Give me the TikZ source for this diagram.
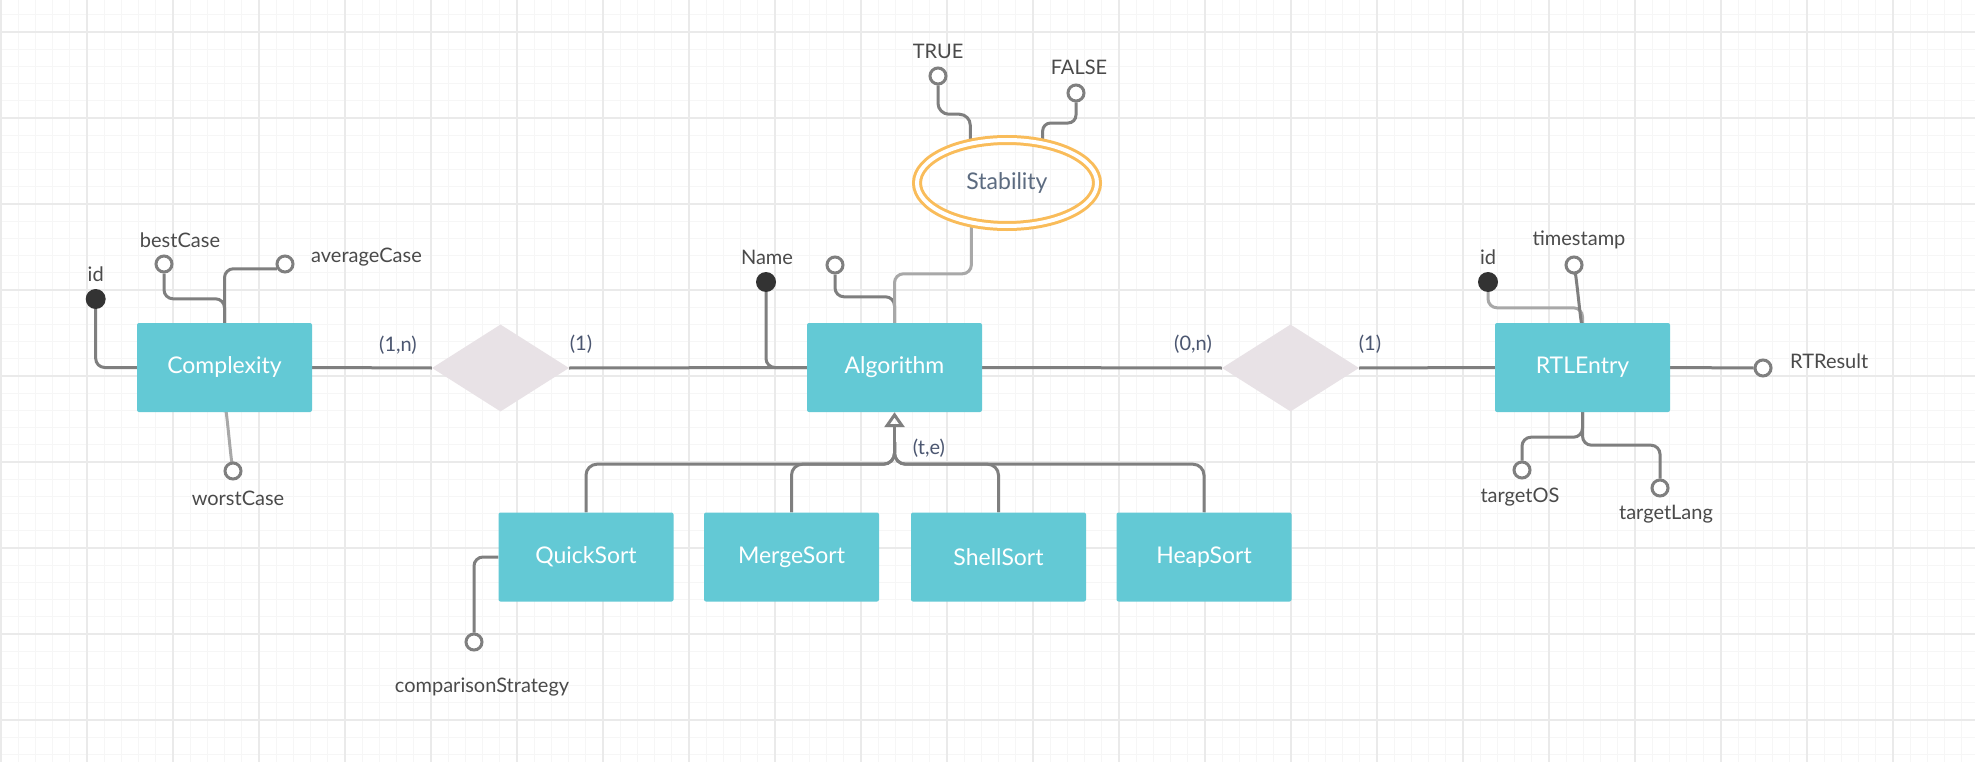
\documentclass[tikz,border=0pt]{standalone}
\usepackage{fontspec}
\setmainfont{Lato}
\usetikzlibrary{shapes.geometric,arrows.meta,calc}
\definecolor{gridminor}{HTML}{F6F6F6}
\definecolor{gridmajor}{HTML}{EAEAEA}
\definecolor{conn}{HTML}{7F7F7F}
\definecolor{connlight}{HTML}{A8A8A8}
\definecolor{entfill}{HTML}{63C9D5}
\definecolor{relfill}{HTML}{E8E2E6}
\definecolor{keyfill}{HTML}{333333}
\definecolor{lbltext}{HTML}{4A4A4A}
\definecolor{cardtext}{HTML}{4B5670}
\definecolor{stabcol}{HTML}{F9BC5A}
\definecolor{stabtext}{HTML}{5C6B80}
\pgfdeclarelayer{gridlayer}
\pgfdeclarelayer{lines}
\pgfsetlayers{gridlayer,lines,main}
\tikzset{
 entity/.style={rectangle, rounded corners=2pt, fill=entfill, text=white, minimum width=175pt, minimum height=89pt, inner sep=0pt, font=\fontsize{23}{27}\selectfont},
 relation/.style={diamond, fill=relfill, minimum width=137pt, minimum height=87pt, inner sep=0pt},
 attr/.style={circle, draw=conn, line width=3pt, fill=white, minimum size=16pt, inner sep=0pt},
 keyattr/.style={circle, fill=keyfill, minimum size=20pt, inner sep=0pt},
 lbl/.style={text=lbltext, inner sep=0pt, font=\fontsize{20}{24}\selectfont},
 card/.style={text=cardtext, inner sep=0pt, font=\fontsize{20}{24}\selectfont},
 conline/.style={draw=conn, line width=3pt, rounded corners=9pt},
 conlight/.style={conline, draw=connlight},
 multival/.style={ellipse, draw=stabcol, line width=3pt, double=white, double distance=4pt, minimum width=180pt, minimum height=86pt, inner sep=0pt, text=stabtext, font=\fontsize{23}{27}\selectfont},
}
\begin{document}
\begin{tikzpicture}[x=1pt,y=-1pt]
\useasboundingbox (0,0) rectangle (1975,762);
\begin{pgfonlayer}{gridlayer}
\fill[white] (0,0) rectangle (1975,762);
\foreach \i in {0,...,115} {\draw[gridminor, line width=1pt] ({1+\i*17.2},0) -- ({1+\i*17.2},762);}
\foreach \j in {0,...,44} {\draw[gridminor, line width=1pt] (0,{14.8+\j*17.2}) -- (1975,{14.8+\j*17.2});}
\foreach \i in {0,...,23} {\draw[gridmajor, line width=1.2pt] ({1+\i*86},0) -- ({1+\i*86},762);}
\foreach \j in {0,...,8} {\draw[gridmajor, line width=1.2pt] (0,{32+\j*86}) -- (1975,{32+\j*86});}
\end{pgfonlayer}

% entities
\node[entity] (cx) at (224.5,367.5) {Complexity};
\node[entity] (alg) at (894.5,367.5) {Algorithm};
\node[entity] (rtl) at (1582.5,367.5) {RTLEntry};
\node[entity] (qs) at (586,557) {QuickSort};
\node[entity] (ms) at (791.5,557) {MergeSort};
\node[entity] (ss) at (998.5,557) {ShellSort};
\node[entity] (hs) at (1204,557) {HeapSort};
% relationships
\node[relation] (r1) at (500.5,368) {};
\node[relation] (r2) at (1290.5,368) {};
% multivalued attribute
\node[multival] (stab) at (1007,183) {Stability};

% attributes
\node[keyattr] (cid) at (95.7,299) {};
\node[attr] (bc) at (164,264) {};
\node[attr] (ac) at (285,264) {};
\node[attr] (wc) at (233,471) {};
\node[keyattr] (nm) at (766,282) {};
\node[attr] (ua) at (835,265) {};
\node[attr] (tr) at (938,76) {};
\node[attr] (fl) at (1076,93) {};
\node[keyattr] (rid) at (1488,282) {};
\node[attr] (ts) at (1574,265) {};
\node[attr] (rr) at (1763,368) {};
\node[attr] (tos) at (1522,470) {};
\node[attr] (tl) at (1660,488) {};
\node[attr] (cs) at (474,642) {};

% attribute labels
\node[lbl] (cidl) at (95.7,274) {id};
\node[lbl] (bcl) at (180,240) {bestCase};
\node[lbl, anchor=west] (acl) at (311,257) {averageCase};
\node[lbl] (wcl) at (238,498) {worstCase};
\node[lbl] (nml) at (767,257) {Name};
\node[lbl] (trl) at (938,51) {TRUE};
\node[lbl] (fll) at (1079,67) {FALSE};
\node[lbl] (ridl) at (1488,257) {id};
\node[lbl] (tsl) at (1579,240) {timestamp};
\node[lbl, anchor=west] (rrl) at (1790,361) {RTResult};
\node[lbl] (tosl) at (1520,497) {targetOS};
\node[lbl] (tll) at (1666,514) {targetLang};
\node[lbl] (csl) at (482,687) {comparisonStrategy};

% cardinalities
\node[card] (c1) at (398,345) {(1,n)};
\node[card] (c2) at (581,344) {(1)};
\node[card] (c3) at (1193,344) {(0,n)};
\node[card] (c4) at (1370,344) {(1)};
\node[card] (c5) at (929,448) {(t,e)};

\begin{pgfonlayer}{lines}
% Complexity
\draw[conline] (cid.south) |- (cx.west);
\draw[conline] (bc.south) |- ([yshift=24pt]cx.north) -- (cx.north);
\draw[conline] (ac.-150) -| (cx.north);
\draw[conlight] (cx.south) .. controls +(0,-35) and +(0,30) .. (wc.north);
\draw[conline] (cx.east) -- (r1.west);
\draw[conline] (r1.east) -- (alg.west);
% Algorithm
\draw[conline] (nm.south) |- (alg.west);
\draw[conline] (ua.south) |- ([yshift=26pt]alg.north) -- (alg.north);
\draw[conlight] (stab.229) |- ([yshift=49pt]alg.north) -- (alg.north);
\draw[conline, rounded corners=11pt] (tr.south) |- ([yshift=28pt]stab.132) -- (stab.132);
\draw[conline, rounded corners=8pt] (fl.south) |- ([yshift=19pt]stab.49) -- (stab.49);
\draw[conline] (alg.east) -- (r2.west);
\draw[conline] (r2.east) -- (rtl.west);
% inheritance
\draw[conline, rounded corners=11pt] (qs.north) |- ([yshift=-52pt]alg.south) -- ([yshift=-30pt]alg.south);
\draw[conline, rounded corners=11pt] (ms.north) |- ([yshift=-52pt]alg.south) -- ([yshift=-30pt]alg.south);
\draw[conline, rounded corners=11pt] (ss.north) |- ([yshift=-52pt]alg.south) -- ([yshift=-30pt]alg.south);
\draw[conline, rounded corners=11pt] (hs.north) |- ([yshift=-52pt]alg.south) -- ([yshift=-30pt]alg.south);
\draw[conline, -{Triangle[open, length=15pt, width=20pt]}] ([yshift=-34pt]alg.south) -- (alg.south);
\draw[conline] (qs.west) -| (cs.north);
% RTLEntry
\draw[conlight] (rid.south) |- ([yshift=15pt]rtl.north) -- (rtl.north);
\draw[conline] (ts.south) .. controls +(0,-30) and +(0,25) .. (rtl.north);
\draw[conline] (rtl.east) -- (rr.west);
\draw[conline] (rtl.south) -- ([yshift=-25pt]rtl.south) -| (tos.north);
\draw[conline] (rtl.south) -- ([yshift=-33pt]rtl.south) -| (tl.north);
\end{pgfonlayer}
\end{tikzpicture}
\end{document}
